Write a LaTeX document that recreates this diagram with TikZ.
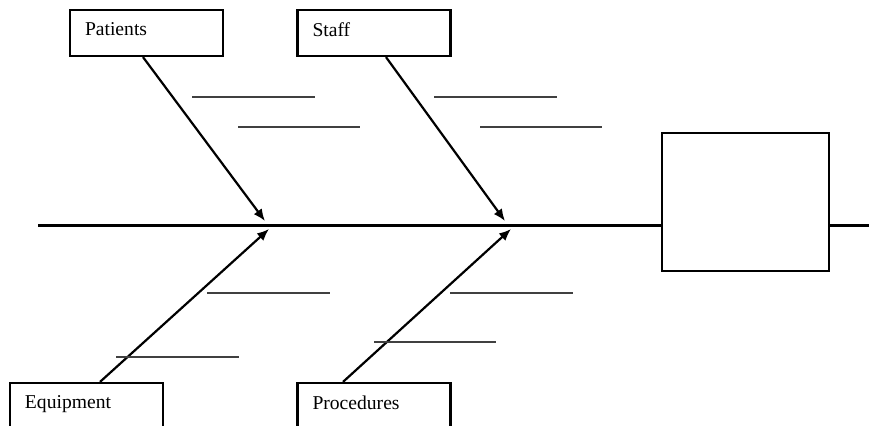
\documentclass[tikz,border=0pt]{standalone}
\usepackage{fontspec}
\setmainfont{Liberation Serif}
\usetikzlibrary{arrows.meta}
\begin{document}
\begin{tikzpicture}[x=0.5pt,y=-0.5pt,>={Latex[length=6pt,width=5pt]},
  cause/.style={draw,line width=1.1pt,minimum width=76.5pt,minimum height=23pt,
    text width=61.5pt,inner xsep=7.5pt,align=left,text depth=3.5pt,
    font=\fontsize{9.8}{11}\selectfont},
  bone/.style={->,line width=1.1pt},
  rib/.style={line width=1pt,black!75}]
  \useasboundingbox (0,0) rectangle (869,425);
  \clip (0,0) rectangle (869,425);

  % cause boxes
  \node[cause] (patients) at (146.5,33) {Patients};
  \node[cause] (staff) at (374,33) {Staff};
  \node[cause] (equip) at (86.5,406) {Equipment};
  \node[cause] (proc) at (374,406) {Procedures};
  % effect box
  \node[draw,line width=1.1pt,minimum width=83.5pt,minimum height=69pt] (effect) at (745.5,202) {};

  % spine
  \coordinate (tail) at (38,225);
  \coordinate (head) at (869,225);
  \draw[line width=1.5pt] (tail) -- (tail -| effect.west);
  \draw[line width=1.5pt] (effect.east |- head) -- (head);

  % joints on the spine
  \coordinate (jpat) at (265,221);
  \coordinate (jsta) at (505,221);
  \coordinate (jequ) at (269,229);
  \coordinate (jpro) at (511,229);
  \draw[bone] ([xshift=-1.75pt]patients.south) -- (jpat);
  \draw[bone] ([xshift=6pt]staff.south) -- (jsta);
  \draw[bone] ([xshift=6.75pt]equip.north) -- (jequ);
  \draw[bone] ([xshift=-15.5pt]proc.north) -- (jpro);

  % blank lines for sub-causes
  \foreach \xa/\xb/\y in {192/315/97,238/360/127,434/557/97,480/602/127,
                          207/330/293,116/239/357,450/573/293,374/496/342}{
    \draw[rib] (\xa,\y) -- (\xb,\y);}
\end{tikzpicture}
\end{document}
